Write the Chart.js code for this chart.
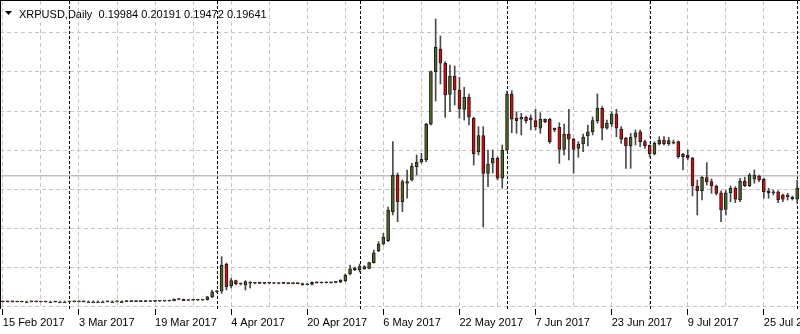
<!DOCTYPE html>
<html>
<head>
<meta charset="utf-8">
<script src="https://cdn.jsdelivr.net/npm/chart.js@4.4.0/dist/chart.umd.min.js"></script>
<style>
  html, body { margin: 0; padding: 0; background: #fff; }
  canvas { display: block; }
</style>
</head>
<body>
<canvas id="chart" width="800" height="334"></canvas>
<script>
// header of the chart window
const symbol = 'XRPUSD,Daily';
const lastBar = [0.19984, 0.20191, 0.19472, 0.19641];
const bidPrice = 0.19641;

// one bar per day, day 0 = 15 Feb 2017
const tickLabels = ['15 Feb 2017', '3 Mar 2017', '19 Mar 2017', '4 Apr 2017', '20 Apr 2017', '6 May 2017',
    '22 May 2017', '7 Jun 2017', '23 Jun 2017', '9 Jul 2017', '25 Jul 2017'];
const monthStarts = [14, 45, 75, 106, 136, 167]; // 1 Mar .. 1 Aug
const gridLevels = [0.4116, 0.3527, 0.2937, 0.2348, 0.1758, 0.1169, 0.0579, -0.0010];

const opens = [
    0.0066, 0.0065, 0.0066, 0.0065, 0.0064, 0.0065, 0.0065, 0.0066, 0.0065, 0.0064,
    0.0063, 0.0063, 0.0064, 0.0064, 0.0064, 0.0065, 0.0066, 0.0067, 0.0066, 0.0066,
    0.0066, 0.0066, 0.0066, 0.0067, 0.0067, 0.0068, 0.0068, 0.0069, 0.0070, 0.0069,
    0.0070, 0.0071, 0.0073, 0.0075, 0.0076, 0.0078, 0.0083, 0.0108, 0.0104, 0.0086,
    0.0090, 0.0089, 0.0091, 0.0097, 0.0140, 0.0218, 0.0225, 0.0635, 0.0310, 0.0384,
    0.0334, 0.0319, 0.0360, 0.0345, 0.0350, 0.0344, 0.0348, 0.0346, 0.0342, 0.0345,
    0.0343, 0.0341, 0.0344, 0.0342, 0.0322, 0.0329, 0.0358, 0.0352, 0.0356, 0.0353,
    0.0358, 0.0362, 0.0379, 0.0485, 0.0545, 0.0545, 0.0564, 0.0570, 0.0655, 0.0835,
    0.0936, 0.0986, 0.1423, 0.1975, 0.1573, 0.1874, 0.1899, 0.2100, 0.2170, 0.2200,
    0.2738, 0.3529, 0.3871, 0.3656, 0.3189, 0.3465, 0.3254, 0.2963, 0.3144, 0.2828,
    0.2325, 0.2566, 0.2000, 0.2151, 0.2226, 0.1925, 0.2351, 0.3194, 0.2828, 0.2813,
    0.2843, 0.2833, 0.2792, 0.2678, 0.2813, 0.2813, 0.2652, 0.2693, 0.2361, 0.2592,
    0.2512, 0.2376, 0.2441, 0.2562, 0.2626, 0.2792, 0.2979, 0.2678, 0.2742, 0.2893,
    0.2663, 0.2527, 0.2411, 0.2542, 0.2626, 0.2476, 0.2422, 0.2291, 0.2441, 0.2501,
    0.2441, 0.2471, 0.2476, 0.2286, 0.2276, 0.2226, 0.1809, 0.1738, 0.1934, 0.1874,
    0.1809, 0.1708, 0.1458, 0.1708, 0.1775, 0.1598, 0.1884, 0.1814, 0.1910, 0.1960,
    0.1910, 0.1738, 0.1708, 0.1723, 0.1674, 0.1674, 0.1639, 0.1609
];
const highs = [
    0.0068, 0.0067, 0.0068, 0.0066, 0.0066, 0.0066, 0.0067, 0.0067, 0.0066, 0.0065,
    0.0064, 0.0065, 0.0065, 0.0065, 0.0066, 0.0067, 0.0068, 0.0068, 0.0067, 0.0067,
    0.0067, 0.0067, 0.0068, 0.0068, 0.0069, 0.0069, 0.0070, 0.0071, 0.0071, 0.0071,
    0.0072, 0.0074, 0.0076, 0.0078, 0.0080, 0.0082, 0.0112, 0.0112, 0.0108, 0.0092,
    0.0093, 0.0093, 0.0100, 0.0150, 0.0244, 0.0240, 0.0745, 0.0650, 0.0420, 0.0395,
    0.0350, 0.0384, 0.0372, 0.0360, 0.0362, 0.0355, 0.0358, 0.0356, 0.0352, 0.0354,
    0.0350, 0.0350, 0.0352, 0.0348, 0.0340, 0.0366, 0.0366, 0.0362, 0.0364, 0.0362,
    0.0368, 0.0400, 0.0485, 0.0620, 0.0590, 0.0635, 0.0610, 0.0665, 0.0846, 0.0971,
    0.1097, 0.1493, 0.2476, 0.2005, 0.1899, 0.2050, 0.2151, 0.2276, 0.2301, 0.2753,
    0.3540, 0.4322, 0.4067, 0.3680, 0.3630, 0.3615, 0.3445, 0.3295, 0.3194, 0.2843,
    0.2702, 0.2702, 0.2351, 0.2351, 0.2250, 0.2426, 0.3239, 0.3243, 0.2927, 0.2903,
    0.2863, 0.2878, 0.2963, 0.2912, 0.2818, 0.2828, 0.2682, 0.2762, 0.2742, 0.2963,
    0.2527, 0.2476, 0.2592, 0.2727, 0.2848, 0.3194, 0.3003, 0.2802, 0.2927, 0.2963,
    0.2702, 0.2542, 0.2602, 0.2652, 0.2652, 0.2501, 0.2426, 0.2476, 0.2551, 0.2551,
    0.2542, 0.2501, 0.2486, 0.2301, 0.2351, 0.2241, 0.1899, 0.1949, 0.2160, 0.1915,
    0.1824, 0.1738, 0.1749, 0.1809, 0.1799, 0.1925, 0.1940, 0.2000, 0.2050, 0.1975,
    0.1925, 0.1775, 0.1749, 0.1738, 0.1689, 0.1699, 0.1659, 0.1899
];
const lows = [
    0.0064, 0.0064, 0.0065, 0.0063, 0.0063, 0.0064, 0.0064, 0.0064, 0.0063, 0.0062,
    0.0062, 0.0062, 0.0063, 0.0063, 0.0063, 0.0064, 0.0065, 0.0065, 0.0065, 0.0065,
    0.0065, 0.0065, 0.0065, 0.0066, 0.0066, 0.0067, 0.0067, 0.0068, 0.0068, 0.0068,
    0.0069, 0.0070, 0.0071, 0.0073, 0.0074, 0.0076, 0.0080, 0.0098, 0.0082, 0.0084,
    0.0086, 0.0087, 0.0089, 0.0093, 0.0130, 0.0205, 0.0194, 0.0244, 0.0274, 0.0320,
    0.0320, 0.0244, 0.0274, 0.0335, 0.0338, 0.0335, 0.0340, 0.0338, 0.0335, 0.0338,
    0.0336, 0.0335, 0.0337, 0.0315, 0.0318, 0.0322, 0.0345, 0.0346, 0.0348, 0.0346,
    0.0350, 0.0355, 0.0370, 0.0470, 0.0535, 0.0515, 0.0555, 0.0560, 0.0646, 0.0820,
    0.0921, 0.0971, 0.1373, 0.1272, 0.1423, 0.1624, 0.1884, 0.1975, 0.2151, 0.2175,
    0.2727, 0.3088, 0.3344, 0.2843, 0.2927, 0.3028, 0.2828, 0.2802, 0.2727, 0.2125,
    0.2276, 0.1192, 0.1799, 0.2005, 0.1899, 0.1775, 0.2340, 0.2611, 0.2602, 0.2577,
    0.2753, 0.2652, 0.2652, 0.2602, 0.2762, 0.2452, 0.2626, 0.2151, 0.2276, 0.2200,
    0.2000, 0.2241, 0.2325, 0.2411, 0.2577, 0.2753, 0.2501, 0.2663, 0.2702, 0.2551,
    0.2451, 0.2075, 0.2075, 0.2426, 0.2401, 0.2376, 0.2250, 0.2276, 0.2426, 0.2426,
    0.2422, 0.2441, 0.2226, 0.2050, 0.2200, 0.1659, 0.1373, 0.1598, 0.1824, 0.1699,
    0.1674, 0.1272, 0.1373, 0.1573, 0.1558, 0.1573, 0.1799, 0.1799, 0.1850, 0.1874,
    0.1624, 0.1624, 0.1674, 0.1558, 0.1573, 0.1598, 0.1598, 0.1549
];
const closes = [
    0.0065, 0.0066, 0.0065, 0.0064, 0.0065, 0.0065, 0.0066, 0.0065, 0.0064, 0.0063,
    0.0063, 0.0064, 0.0064, 0.0064, 0.0065, 0.0066, 0.0067, 0.0066, 0.0066, 0.0066,
    0.0066, 0.0066, 0.0067, 0.0067, 0.0068, 0.0068, 0.0069, 0.0070, 0.0069, 0.0070,
    0.0071, 0.0073, 0.0075, 0.0076, 0.0078, 0.0080, 0.0108, 0.0101, 0.0085, 0.0090,
    0.0089, 0.0091, 0.0097, 0.0143, 0.0218, 0.0225, 0.0620, 0.0293, 0.0384, 0.0334,
    0.0345, 0.0369, 0.0345, 0.0350, 0.0344, 0.0348, 0.0346, 0.0342, 0.0345, 0.0343,
    0.0341, 0.0344, 0.0340, 0.0322, 0.0335, 0.0360, 0.0352, 0.0356, 0.0353, 0.0358,
    0.0362, 0.0394, 0.0470, 0.0564, 0.0575, 0.0595, 0.0595, 0.0655, 0.0805, 0.0936,
    0.1037, 0.1448, 0.1975, 0.1573, 0.1874, 0.1850, 0.2110, 0.2166, 0.2211, 0.2738,
    0.3529, 0.3897, 0.3656, 0.3179, 0.3465, 0.3254, 0.2968, 0.3144, 0.2843, 0.2291,
    0.2566, 0.2000, 0.2140, 0.2226, 0.1925, 0.2351, 0.3194, 0.2813, 0.2792, 0.2843,
    0.2792, 0.2802, 0.2702, 0.2813, 0.2777, 0.2476, 0.2678, 0.2361, 0.2592, 0.2512,
    0.2361, 0.2441, 0.2542, 0.2626, 0.2792, 0.2979, 0.2678, 0.2753, 0.2893, 0.2678,
    0.2512, 0.2411, 0.2542, 0.2611, 0.2476, 0.2411, 0.2291, 0.2452, 0.2501, 0.2441,
    0.2491, 0.2452, 0.2250, 0.2250, 0.2231, 0.1809, 0.1738, 0.1940, 0.1874, 0.1809,
    0.1699, 0.1448, 0.1708, 0.1775, 0.1609, 0.1884, 0.1814, 0.1975, 0.1975, 0.1899,
    0.1723, 0.1708, 0.1723, 0.1598, 0.1609, 0.1648, 0.1618, 0.1775
];

// price range of the visible window
const yMin = -0.0042;
const yMax = 0.4593;

const bullColor = '#4b6a1d';
const bearColor = '#f00000';
const gridColor = '#c6c6c6';

const bodies = opens.map((o, i) => ({ x: i, y: [o, closes[i]] }));
const wicks = opens.map((o, i) => ({ x: i, y: [lows[i], highs[i]] }));
const bodyColors = opens.map((o, i) => closes[i] >= o ? bullColor : bearColor);

// month separators, bid line, header text
const terminalPlugin = {
    id: 'terminal',
    beforeDatasetsDraw(chart) {
        const c = chart.ctx, a = chart.chartArea;
        const xs = chart.scales.x, ys = chart.scales.y;
        c.save();
        c.strokeStyle = '#000';
        c.lineWidth = 1;
        c.setLineDash([3, 2]);
        monthStarts.forEach(d => {
            const px = Math.round(xs.getPixelForValue(d)) + 0.5;
            c.beginPath();
            c.moveTo(px, a.top);
            c.lineTo(px, a.bottom);
            c.stroke();
        });
        c.setLineDash([]);
        c.strokeStyle = '#c0c0c0';
        c.lineWidth = 1.5;
        const by = ys.getPixelForValue(bidPrice);
        c.beginPath();
        c.moveTo(a.left, by);
        c.lineTo(a.right, by);
        c.stroke();
        c.restore();
    },
    afterDraw(chart) {
        const c = chart.ctx, a = chart.chartArea;
        c.save();
        c.strokeStyle = '#000';
        c.lineWidth = 1;
        c.beginPath();
        c.moveTo(0, 0.5);
        c.lineTo(800, 0.5);
        c.moveTo(0.5, 0);
        c.lineTo(0.5, a.bottom);
        c.stroke();
        c.fillStyle = '#000';
        c.beginPath();
        c.moveTo(5, 11);
        c.lineTo(12, 11);
        c.lineTo(8.5, 15);
        c.closePath();
        c.fill();
        c.font = '11px "Liberation Sans"';
        c.textBaseline = 'alphabetic';
        c.fillText(symbol + '  ' + lastBar.map(v => v.toFixed(5)).join(' '), 19, 18);
        c.restore();
    }
};

new Chart(document.getElementById('chart').getContext('2d'), {
    type: 'bar',
    data: {
        datasets: [
            {
                data: bodies,
                backgroundColor: bodyColors,
                borderColor: '#1c1c1c',
                borderWidth: 1,
                borderSkipped: false,
                barThickness: 3,
                minBarLength: 1,
                grouped: false,
                order: 0
            },
            {
                data: wicks,
                backgroundColor: '#4a4a4a',
                barThickness: 1,
                minBarLength: 1,
                grouped: false,
                order: 1
            }
        ]
    },
    options: {
        responsive: false,
        animation: false,
        layout: { padding: { top: 1, left: 0, right: 0, bottom: 0 } },
        plugins: {
            legend: { display: false },
            tooltip: { enabled: false }
        },
        scales: {
            x: {
                type: 'linear',
                min: -0.6,
                max: 167.6,
                offset: false,
                afterBuildTicks: s => {
                    s.ticks = [];
                    for (let d = 0; d <= 167; d += 8) s.ticks.push({ value: d });
                },
                afterFit: s => {
                    s.height = 25;
                    s.paddingLeft = 0;
                    s.paddingRight = 0;
                },
                ticks: {
                    autoSkip: false,
                    maxRotation: 0,
                    align: 'start',
                    padding: 1,
                    color: '#000',
                    font: { family: 'Liberation Sans', size: 11 },
                    callback: v => (v % 16 === 0 ? tickLabels[v / 16] : '')
                },
                grid: {
                    offset: false,
                    color: gridColor,
                    tickLength: 6,
                    tickColor: ctx => (ctx.tick && ctx.tick.value % 16 === 0 ? '#000' : 'rgba(0,0,0,0)')
                },
                border: { display: false, dash: [4, 3] }
            },
            y: {
                min: yMin,
                max: yMax,
                afterBuildTicks: s => {
                    s.ticks = gridLevels.map(v => ({ value: v }));
                },
                afterFit: s => {
                    s.width = 0;
                },
                ticks: { display: false },
                grid: { color: gridColor, drawTicks: false },
                border: { display: false, dash: [4, 3] }
            }
        }
    },
    plugins: [terminalPlugin]
});
</script>
</body>
</html>
